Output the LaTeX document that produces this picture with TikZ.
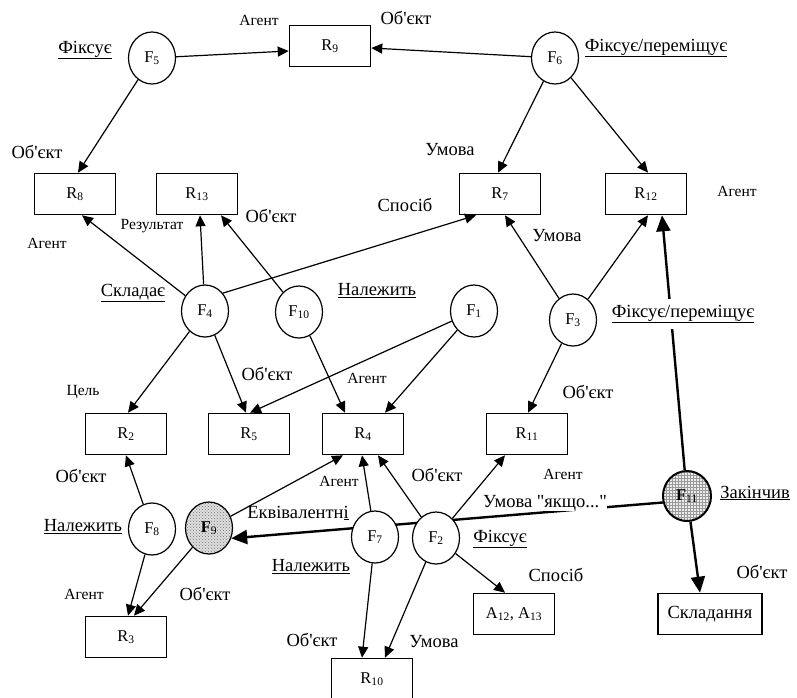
\documentclass[tikz,border=0pt]{standalone}
\usepackage{fontspec}
\setmainfont{Liberation Serif}[Ligatures=TeXOff]
\usetikzlibrary{arrows.meta,calc,patterns,shapes.geometric}
\pgfdeclarelayer{bg}
\pgfsetlayers{bg,main}
\begin{document}
\begin{tikzpicture}[x=1pt,y=-1pt,
  fn/.style={ellipse,draw,line width=1.2pt,minimum width=47pt,minimum height=52pt,inner sep=0pt,fill=white,font=\fontsize{16.5}{17}\selectfont},
  rb/.style={rectangle,draw,line width=1.6pt,minimum width=81pt,minimum height=41pt,inner sep=0pt,fill=white,font=\fontsize{16.5}{17}\selectfont},
  big/.style={font=\fontsize{18.5}{20}\selectfont,inner sep=0pt},
  sml/.style={font=\fontsize{15.5}{16}\selectfont,inner sep=0pt},
  arr/.style={line width=1.2pt,-{Triangle[length=11pt,width=10pt]}},
  tarr/.style={line width=2.4pt,-{Triangle[length=16pt,width=14pt]}}]
\useasboundingbox (0,0) rectangle (797,697);

% boxes
\node[rb] (R9) at (330,46) {R\textsubscript{9}};
\node[rb] (R8) at (75,194) {R\textsubscript{8}};
\node[rb] (R13) at (197,194) {R\textsubscript{13}};
\node[rb] (R7) at (500,194) {R\textsubscript{7}};
\node[rb] (R12) at (646,194) {R\textsubscript{12}};
\node[rb] (R2) at (126,434) {R\textsubscript{2}};
\node[rb] (R5) at (249,434) {R\textsubscript{5}};
\node[rb] (R4) at (363,434) {R\textsubscript{4}};
\node[rb] (R11) at (527,434) {R\textsubscript{11}};
\node[rb] (R3) at (126,637) {R\textsubscript{3}};
\node[rb] (R10) at (372,679) {R\textsubscript{10}};
\node[rb] (A) at (514,614) {A\textsubscript{12}, A\textsubscript{13}};
\node[rb,minimum width=104pt,font=\fontsize{18.5}{20}\selectfont] (S) at (710,614) {Складання};

% function nodes
\node[fn] (F5) at (152,58) {F\textsubscript{5}};
\node[fn] (F6) at (555,58) {F\textsubscript{6}};
\node[fn] (F4) at (205,311) {F\textsubscript{4}};
\node[fn] (F10) at (299,312) {F\textsubscript{10}};
\node[fn] (F1) at (474,311) {F\textsubscript{1}};
\node[fn] (F3) at (573,320) {F\textsubscript{3}};
\node[fn] (F8) at (152,529) {F\textsubscript{8}};
\node[fn,preaction={fill=gray!25},pattern=crosshatch dots,pattern color=gray!90!black] (F9) at (209,528) {\textbf{F}\textsubscript{9}};
\node[fn] (F7) at (375,537) {F\textsubscript{7}};
\node[fn] (F2) at (436,538) {F\textsubscript{2}};
\node[fn,line width=2pt,minimum width=48pt,minimum height=50pt,preaction={fill=gray!15},pattern=grid,pattern color=gray!80] (F11) at (687,496) {\textbf{F}\textsubscript{11}};

% background thick line
\begin{pgfonlayer}{bg}
\draw[tarr] (F11.195) -- (F9.-25);
\end{pgfonlayer}

% connectors
\draw[arr] (F5) -- ($(R9.west)+(0,5)$);
\draw[arr] (F6) -- ($(R9.east)+(0,2)$);
\draw[arr] (F5) -- ($(R8.north)+(3,0)$);
\draw[arr] (F6) -- ($(R7.north)+(-2,0)$);
\draw[arr] (F6) -- ($(R12.north)+(2,0)$);
\draw[arr] (F4) -- ($(R8.south)+(7,0)$);
\draw[arr] (F4) -- ($(R13.south)+(3,0)$);
\draw[arr] (F10) -- ($(R13.south)+(24,0)$);
\draw[arr] (F4.45) -- ($(R7.south)+(-24,0)$);
\draw[arr] (F3) -- ($(R7.south)+(5,0)$);
\draw[arr] (F3) -- ($(R12.south)+(2,0)$);
\draw[tarr] (F11) -- ($(R12.south)+(16,0)$);
\draw[arr] (F4) -- ($(R2.north)+(2,0)$);
\draw[arr] (F4) -- ($(R5.north)+(-3,0)$);
\draw[arr] (F10) -- ($(R4.north)+(-18,0)$);
\draw[arr] (F1) -- ($(R5.north)+(1,0)$);
\draw[arr] (F1) -- ($(R4.north)+(22,0)$);
\draw[arr] (F3) -- ($(R11.north)+(1,0)$);
\draw[arr] (F8) -- (R2.south);
\draw[arr] (F8) -- ($(R3.north)+(2,0)$);
\draw[arr] (F9) -- ($(R3.north)+(8,0)$);
\draw[arr] (F9) -- ($(R4.south)+(-20,0)$);
\draw[arr] (F7) -- ($(R4.south)+(-1,0)$);
\draw[arr] (F7) -- ($(R10.north)+(-10,0)$);
\draw[arr] (F2) -- ($(R4.south)+(15,0)$);
\draw[arr] (F2) -- ($(R11.south)+(-22,0)$);
\draw[arr] (F2) -- ($(A.north)+(-9,0)$);
\draw[arr] (F2) -- ($(R10.north)+(13,0)$);
\draw[tarr] (F11) -- ($(S.north)+(-10,0)$);

% labels
\node[sml] (l1) at (259,20) {Агент};
\node[big] (l2) at (406,18) {Об'єкт};
\node[big] (l3) at (85,50) {\underline{Фіксує}};
\node[big] (l4) at (656,48) {\underline{Фіксує/переміщує}};
\node[big] (l5) at (37,152) {Об'єкт};
\node[big] (l6) at (450,150) {Умова};
\node[sml] (l7) at (737,191) {Агент};
\node[sml] (l8) at (152,226) {Результат};
\node[sml] (l9) at (47,243) {Агент};
\node[big] (l10) at (271,216) {Об'єкт};
\node[big] (l11) at (405,205) {Спосіб};
\node[big] (l12) at (557,236) {Умова};
\node[big] (l13) at (133,293) {\underline{Складає}};
\node[big] (l14) at (377,291) {\underline{Належить}};
\node[big,fill=white,inner ysep=6pt,inner xsep=1pt] (l15) at (683,314) {\underline{Фіксує/переміщує}};
\node[sml] (l16) at (83,392) {Цель};
\node[big] (l17) at (267,374) {Об'єкт};
\node[sml] (l18) at (367,378) {Агент};
\node[big] (l19) at (588,392) {Об'єкт};
\node[big] (l20) at (81,476) {Об'єкт};
\node[big] (l21) at (83,527) {\underline{Належить}};
\node[sml] (l22) at (84,594) {Агент};
\node[big] (l23) at (205,594) {Об'єкт};
\node[big] (l24) at (298,513) {Еквівалентн\underline{і}};
\node[sml] (l25) at (339,481) {Агент};
\node[big] (l26) at (311,567) {\underline{Належить}};
\node[big] (l27) at (312,640) {Об'єкт};
\node[big] (l28) at (437,475) {Об'єкт};
\node[sml] (l29) at (563,474) {Агент};
\node[big,fill=white] (l30) at (545,503) {Умова "якщо..."};
\node[big] (l31) at (500,539) {\underline{Фіксує}};
\node[big] (l32) at (556,575) {Спосіб};
\node[big] (l33) at (755,493) {\underline{Закінчив}};
\node[big] (l34) at (762,572) {Об'єкт};
\node[big] (l35) at (434,642) {Умова};
\end{tikzpicture}
\end{document}
